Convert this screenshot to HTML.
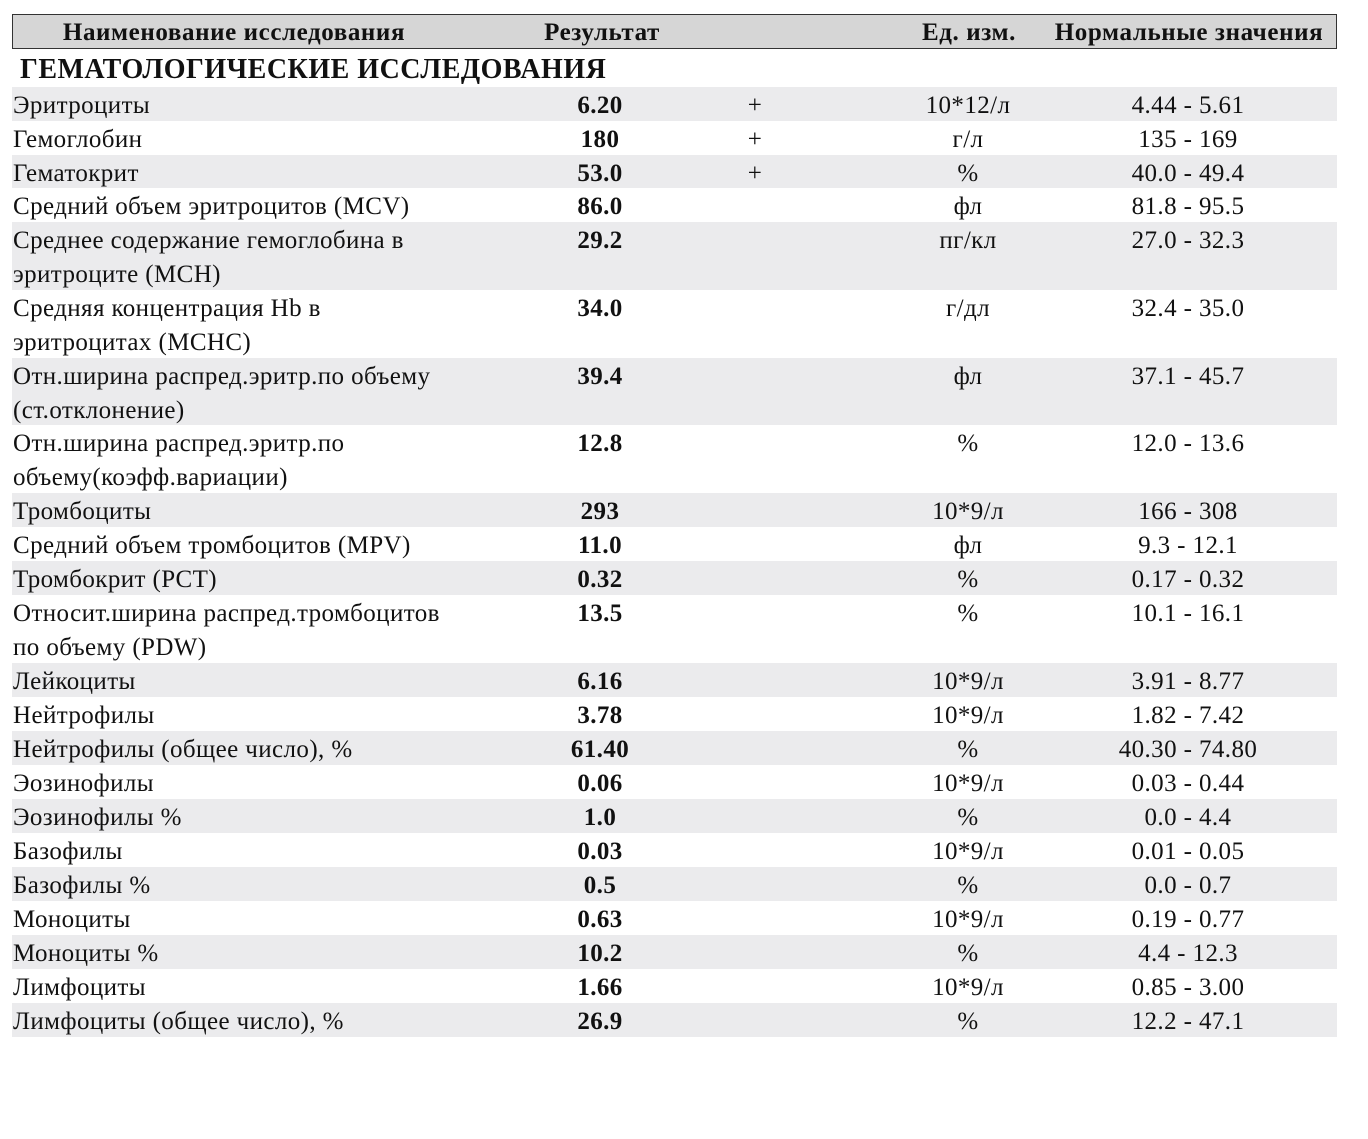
<!DOCTYPE html>
<html><head><meta charset="utf-8"><style>
body{margin:0;width:1368px;height:1139px;background:#fff;position:relative;font-family:"Liberation Serif","DejaVu Serif",serif;color:#111;overflow:hidden}
.hdr{position:absolute;left:12px;top:14px;width:1323px;height:33px;background:#d6d6d6;border:1px solid #333}
.hdr span{position:absolute;top:1px;line-height:34px;font-weight:bold;font-size:25px;letter-spacing:0.6px;width:400px;text-align:center;white-space:nowrap}
.sec{position:absolute;left:20px;top:53px;font-weight:bold;font-size:28px;letter-spacing:0.5px;line-height:34px;white-space:nowrap}
.r{position:absolute;left:12px;width:1325px;font-size:25px;line-height:34px;letter-spacing:0.4px}
.g{background:#ebebed}
.r div{position:absolute;top:2px;white-space:nowrap}
.n{left:1px;width:460px}
.v{left:538px;width:100px;text-align:center;font-weight:bold}
.p{left:733px;width:20px;text-align:center}
.u{left:896px;width:120px;text-align:center}
.m{left:1086px;width:180px;text-align:center}
</style></head><body>
<div class="hdr"><span style="left:21px">Наименование исследования</span><span style="left:389px">Результат</span><span style="left:756px">Ед. изм.</span><span style="left:976px">Нормальные значения</span></div>
<div class="sec">ГЕМАТОЛОГИЧЕСКИЕ ИССЛЕДОВАНИЯ</div>

<div class="r g" style="top:87px;height:34px"><div class="n">Эритроциты</div><div class="v">6.20</div><div class="p">+</div><div class="u">10*12/л</div><div class="m">4.44 - 5.61</div></div>
<div class="r" style="top:121px;height:34px"><div class="n">Гемоглобин</div><div class="v">180</div><div class="p">+</div><div class="u">г/л</div><div class="m">135 - 169</div></div>
<div class="r g" style="top:155px;height:33px"><div class="n">Гематокрит</div><div class="v">53.0</div><div class="p">+</div><div class="u">%</div><div class="m">40.0 - 49.4</div></div>
<div class="r" style="top:188px;height:34px"><div class="n">Средний объем эритроцитов (MCV)</div><div class="v">86.0</div><div class="u">фл</div><div class="m">81.8 - 95.5</div></div>
<div class="r g" style="top:222px;height:68px"><div class="n">Среднее содержание гемоглобина в<br>эритроците (MCH)</div><div class="v">29.2</div><div class="u">пг/кл</div><div class="m">27.0 - 32.3</div></div>
<div class="r" style="top:290px;height:68px"><div class="n">Средняя концентрация Hb в<br>эритроцитах (MCHC)</div><div class="v">34.0</div><div class="u">г/дл</div><div class="m">32.4 - 35.0</div></div>
<div class="r g" style="top:358px;height:67px"><div class="n">Отн.ширина распред.эритр.по объему<br>(ст.отклонение)</div><div class="v">39.4</div><div class="u">фл</div><div class="m">37.1 - 45.7</div></div>
<div class="r" style="top:425px;height:68px"><div class="n">Отн.ширина распред.эритр.по<br>объему(коэфф.вариации)</div><div class="v">12.8</div><div class="u">%</div><div class="m">12.0 - 13.6</div></div>
<div class="r g" style="top:493px;height:34px"><div class="n">Тромбоциты</div><div class="v">293</div><div class="u">10*9/л</div><div class="m">166 - 308</div></div>
<div class="r" style="top:527px;height:34px"><div class="n">Средний объем тромбоцитов (MPV)</div><div class="v">11.0</div><div class="u">фл</div><div class="m">9.3 - 12.1</div></div>
<div class="r g" style="top:561px;height:34px"><div class="n">Тромбокрит (PCT)</div><div class="v">0.32</div><div class="u">%</div><div class="m">0.17 - 0.32</div></div>
<div class="r" style="top:595px;height:68px"><div class="n">Относит.ширина распред.тромбоцитов<br>по объему (PDW)</div><div class="v">13.5</div><div class="u">%</div><div class="m">10.1 - 16.1</div></div>
<div class="r g" style="top:663px;height:34px"><div class="n">Лейкоциты</div><div class="v">6.16</div><div class="u">10*9/л</div><div class="m">3.91 - 8.77</div></div>
<div class="r" style="top:697px;height:34px"><div class="n">Нейтрофилы</div><div class="v">3.78</div><div class="u">10*9/л</div><div class="m">1.82 - 7.42</div></div>
<div class="r g" style="top:731px;height:34px"><div class="n">Нейтрофилы (общее число), %</div><div class="v">61.40</div><div class="u">%</div><div class="m">40.30 - 74.80</div></div>
<div class="r" style="top:765px;height:34px"><div class="n">Эозинофилы</div><div class="v">0.06</div><div class="u">10*9/л</div><div class="m">0.03 - 0.44</div></div>
<div class="r g" style="top:799px;height:34px"><div class="n">Эозинофилы %</div><div class="v">1.0</div><div class="u">%</div><div class="m">0.0 - 4.4</div></div>
<div class="r" style="top:833px;height:34px"><div class="n">Базофилы</div><div class="v">0.03</div><div class="u">10*9/л</div><div class="m">0.01 - 0.05</div></div>
<div class="r g" style="top:867px;height:34px"><div class="n">Базофилы %</div><div class="v">0.5</div><div class="u">%</div><div class="m">0.0 - 0.7</div></div>
<div class="r" style="top:901px;height:34px"><div class="n">Моноциты</div><div class="v">0.63</div><div class="u">10*9/л</div><div class="m">0.19 - 0.77</div></div>
<div class="r g" style="top:935px;height:34px"><div class="n">Моноциты %</div><div class="v">10.2</div><div class="u">%</div><div class="m">4.4 - 12.3</div></div>
<div class="r" style="top:969px;height:34px"><div class="n">Лимфоциты</div><div class="v">1.66</div><div class="u">10*9/л</div><div class="m">0.85 - 3.00</div></div>
<div class="r g" style="top:1003px;height:34px"><div class="n">Лимфоциты (общее число), %</div><div class="v">26.9</div><div class="u">%</div><div class="m">12.2 - 47.1</div></div>
</body></html>
